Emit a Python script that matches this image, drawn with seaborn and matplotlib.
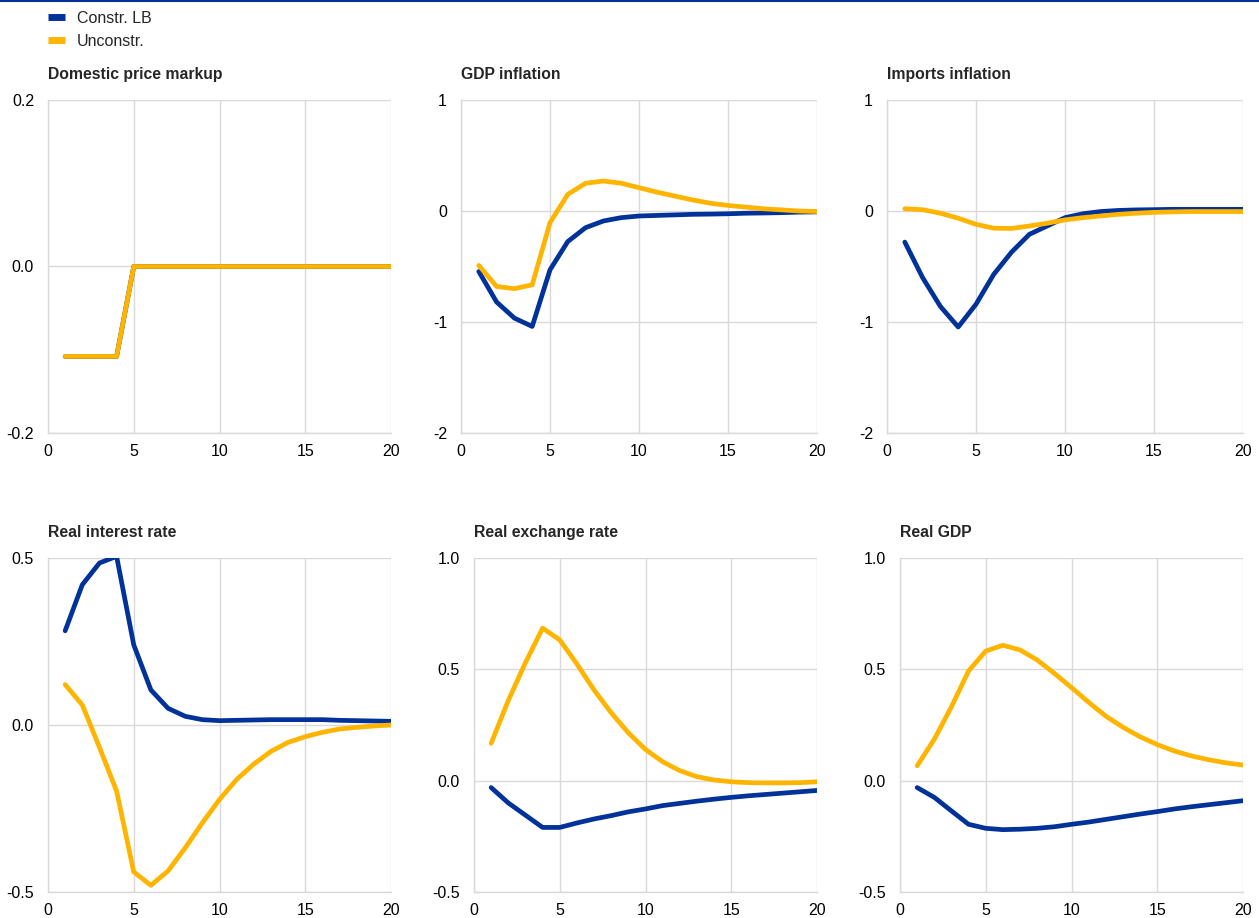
import numpy as np
import pandas as pd
import matplotlib
matplotlib.use("Agg")
import matplotlib.pyplot as plt
from matplotlib.lines import Line2D
import seaborn as sns

# Impulse responses, quarters 1..20
periods = list(range(1, 21))
scenarios = ["Constr. LB", "Unconstr."]

markup_lb = [-0.108, -0.108, -0.108, -0.108] + [0.0] * 16
markup_un = [-0.108, -0.108, -0.108, -0.108] + [0.0] * 16

gdp_infl_lb = [-0.545, -0.82, -0.965, -1.04, -0.53, -0.275, -0.15, -0.09, -0.06, -0.045,
               -0.04, -0.035, -0.03, -0.028, -0.025, -0.02, -0.018, -0.015, -0.01, -0.008]
gdp_infl_un = [-0.49, -0.68, -0.70, -0.665, -0.105, 0.15, 0.25, 0.27, 0.25, 0.21,
               0.17, 0.135, 0.10, 0.07, 0.05, 0.035, 0.02, 0.01, 0.0, -0.005]

imp_infl_lb = [-0.28, -0.60, -0.86, -1.045, -0.84, -0.57, -0.37, -0.21, -0.135, -0.06,
               -0.025, -0.005, 0.005, 0.01, 0.012, 0.015, 0.015, 0.015, 0.015, 0.015]
imp_infl_un = [0.02, 0.012, -0.02, -0.065, -0.12, -0.155, -0.157, -0.135, -0.11, -0.08,
               -0.06, -0.045, -0.03, -0.02, -0.012, -0.008, -0.005, -0.005, -0.005, -0.005]

rir_lb = [0.282, 0.42, 0.485, 0.505, 0.24, 0.105, 0.05, 0.026, 0.016, 0.013,
          0.014, 0.015, 0.016, 0.016, 0.016, 0.016, 0.014, 0.013, 0.012, 0.011]
rir_un = [0.121, 0.06, -0.067, -0.198, -0.44, -0.48, -0.437, -0.368, -0.293, -0.223,
          -0.163, -0.117, -0.079, -0.052, -0.035, -0.022, -0.012, -0.007, -0.003, 0.0]

rer_lb = [-0.031, -0.1, -0.155, -0.21, -0.21, -0.19, -0.172, -0.157, -0.14, -0.127,
          -0.112, -0.102, -0.092, -0.083, -0.075, -0.068, -0.062, -0.056, -0.05, -0.044]
rer_un = [0.168, 0.36, 0.53, 0.685, 0.632, 0.524, 0.407, 0.305, 0.215, 0.14,
          0.085, 0.045, 0.018, 0.003, -0.005, -0.009, -0.01, -0.01, -0.009, -0.005]

gdp_lb = [-0.031, -0.075, -0.136, -0.196, -0.214, -0.22, -0.218, -0.214, -0.207, -0.196,
          -0.186, -0.174, -0.162, -0.15, -0.139, -0.127, -0.117, -0.108, -0.099, -0.09]
gdp_un = [0.067, 0.186, 0.332, 0.493, 0.582, 0.608, 0.587, 0.542, 0.482, 0.418,
          0.352, 0.29, 0.24, 0.197, 0.162, 0.133, 0.111, 0.094, 0.08, 0.07]

titles = ["Domestic price markup", "GDP inflation", "Imports inflation",
          "Real interest rate", "Real exchange rate", "Real GDP"]
series = [(markup_lb, markup_un), (gdp_infl_lb, gdp_infl_un), (imp_infl_lb, imp_infl_un),
          (rir_lb, rir_un), (rer_lb, rer_un), (gdp_lb, gdp_un)]
yticks = [[-0.2, 0.0, 0.2], [-2, -1, 0, 1], [-2, -1, 0, 1],
          [-0.5, 0.0, 0.5], [-0.5, 0.0, 0.5, 1.0], [-0.5, 0.0, 0.5, 1.0]]
yfmt = ["{:.1f}", "{:.0f}", "{:.0f}", "{:.1f}", "{:.1f}", "{:.1f}"]

blue = "#003299"
yellow = "#FFB400"
palette = {"Constr. LB": blue, "Unconstr.": yellow}

sns.set_style("white")
plt.rcParams["font.family"] = ["Liberation Sans", "DejaVu Sans"]

W, H = 1259, 918
fig = plt.figure(figsize=(W / 100, H / 100), dpi=100)

# axes boxes in pixels: left, top, right, bottom
boxes = [(48, 100, 391, 433), (461, 100, 817, 433), (887, 100, 1243, 433),
         (48, 558, 391, 892), (474, 558, 817, 892), (900, 558, 1243, 892)]

for i in range(6):
    l, t, r, b = boxes[i]
    ax = fig.add_axes([l / W, 1 - b / H, (r - l) / W, (b - t) / H])
    lb, un = series[i]
    df = pd.DataFrame({
        "period": periods * 2,
        "value": lb + un,
        "scenario": [scenarios[0]] * 20 + [scenarios[1]] * 20,
    })
    sns.lineplot(data=df, x="period", y="value", hue="scenario", hue_order=scenarios,
                 palette=palette, linewidth=3.4, legend=False, ax=ax)
    ax.set_xlim(0, 20)
    ax.set_ylim(yticks[i][0], yticks[i][-1])
    ax.set_xticks([0, 5, 10, 15, 20])
    ax.set_xticklabels(["0", "5", "10", "15", "20"])
    ax.set_yticks(yticks[i])
    ax.set_yticklabels([yfmt[i].format(abs(v)) if abs(v) < 1e-9 else yfmt[i].format(v)
                        for v in yticks[i]])
    ax.grid(True, color="#d9d9d9", linewidth=1)
    for s in ["top", "right"]:
        ax.spines[s].set_visible(False)
    for s in ["left", "bottom"]:
        ax.spines[s].set_color("#d9d9d9")
        ax.spines[s].set_linewidth(1)
    ax.tick_params(axis="both", length=0, labelsize=11.5, colors="black")
    ax.tick_params(axis="y", pad=10)
    ax.tick_params(axis="x", pad=8)
    ax.set_xlabel("")
    ax.set_ylabel("")
    ax.set_title(titles[i], loc="left", fontsize=11.3, fontweight="bold", pad=15)

# legend at top left
handles = [Line2D([0], [0], color=blue, linewidth=5, solid_capstyle="butt"),
           Line2D([0], [0], color=yellow, linewidth=5, solid_capstyle="butt")]
fig.legend(handles, scenarios, loc="upper left", bbox_to_anchor=(48 / W, 1 - 11 / H), frameon=False,
           fontsize=11.5, handlelength=1.05, handletextpad=0.75, labelspacing=0.5,
           borderaxespad=0, borderpad=0)

# thin blue rule along the top edge
fig.add_artist(Line2D([0, 1], [0.999, 0.999], color=blue, linewidth=1.5, transform=fig.transFigure))

fig.savefig("out.png", dpi=100)
